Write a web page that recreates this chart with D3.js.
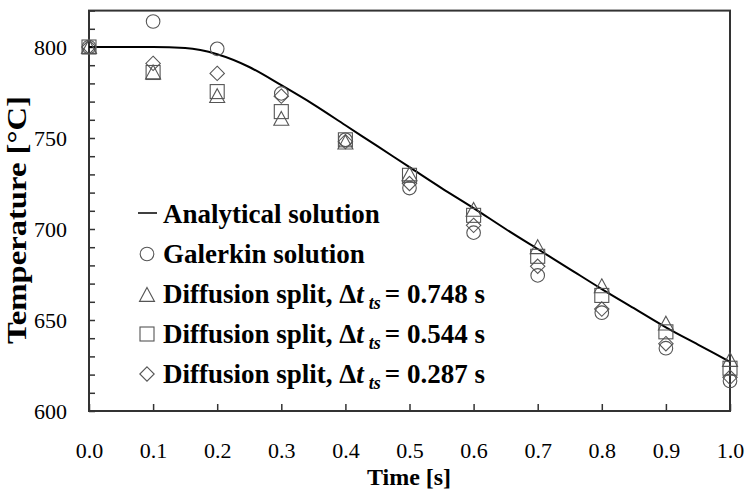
<!DOCTYPE html>
<html><head><meta charset="utf-8">
<script src="https://cdn.jsdelivr.net/npm/d3@7"></script>
<style>body{margin:0;background:#fff}svg{display:block}</style>
</head><body>
<svg id="c" width="745" height="490"></svg>
<script>
const times = [0,0.1,0.2,0.3,0.4,0.5,0.6,0.7,0.8,0.9,1.0];
const galerkin = [800,814,799,774.5,749,722.5,698,674.5,654,634.5,616.5];
const split748 = [800,786,773,760.5,747.5,730,710.5,690,668.5,648,628];
const split544 = [800,786,775.5,764.5,749,729.5,707.5,685,663.5,643.5,623.5];
const split287 = [800,791,785.5,773,748,725,702,679.5,656,637,618.5];
const analyticT = [0,0.05,0.1,0.15,0.2,0.25,0.3,0.35,0.4,0.45,0.5,0.55,0.6,0.65,0.7,0.75,0.8,0.85,0.9,0.95,1.0];
const analyticV = [800,800,800,799.4,796,789,779,768.5,757,745.5,734,722.5,711.5,700,689,678,667,656.5,646,636.5,627];
const xTicks = [0,0.1,0.2,0.3,0.4,0.5,0.6,0.7,0.8,0.9,1.0];
const yMajor = [600,650,700,750,800];
const yMinor = [600,610,620,630,640,650,660,670,680,690,700,710,720,730,740,750,760,770,780,790,800,810,820];
const legendLabels = ["Analytical solution","Galerkin solution","Diffusion split, ","Diffusion split, ","Diffusion split, "];
const legendDt = [null,null,"0.748","0.544","0.287"];

const svg = d3.select("#c");
const x = d3.scaleLinear().domain([0,1]).range([89,730]);
const y = d3.scaleLinear().domain([600,820]).range([411,10.6]);
const axisCol = "#333";
const mCol = "#555";
const serif = "'Liberation Serif','Times New Roman',serif";

// frame
svg.append("rect").attr("x",x(0)).attr("y",y(820)).attr("width",x(1)-x(0)).attr("height",y(600)-y(820))
  .attr("fill","none").attr("stroke",axisCol).attr("stroke-width",2);

// x ticks (inward)
const xa = svg.append("g").attr("transform",`translate(0,${y(600)})`)
  .call(d3.axisBottom(x).tickValues(xTicks).tickSizeInner(-7).tickSizeOuter(0).tickFormat(d3.format(".1f")).tickPadding(31.5));
xa.select(".domain").remove();
xa.selectAll("line").attr("stroke",axisCol).attr("stroke-width",1.5);
xa.selectAll("text").attr("font-family",serif).attr("font-size",22).attr("fill","#000");

// y ticks
const ya = svg.append("g").attr("transform",`translate(${x(0)},0)`)
  .call(d3.axisLeft(y).tickValues(yMinor).tickSizeInner(-6).tickSizeOuter(0).tickFormat(""));
ya.select(".domain").remove();
ya.selectAll("line").attr("stroke",axisCol).attr("stroke-width",1.5);
const yl = svg.append("g").attr("transform",`translate(${x(0)},0)`)
  .call(d3.axisLeft(y).tickValues(yMajor).tickSize(0).tickPadding(22));
yl.select(".domain").remove();
yl.selectAll("text").attr("font-family",serif).attr("font-size",22).attr("fill","#000");

// titles
svg.append("text").attr("x",409).attr("y",485).attr("text-anchor","middle")
  .attr("font-family",serif).attr("font-weight","bold").attr("font-size",24).text("Time [s]");
svg.append("text").attr("transform","translate(26,220) rotate(-90)").attr("text-anchor","middle")
  .attr("font-family",serif).attr("font-weight","bold").attr("font-size",27)
  .attr("textLength",248).attr("lengthAdjust","spacingAndGlyphs").text("Temperature [°C]");

// analytical line
const line = d3.line().x((d,i)=>x(analyticT[i])).y(d=>y(d)).curve(d3.curveMonotoneX);
svg.append("path").attr("d",line(analyticV)).attr("fill","none").attr("stroke","#000").attr("stroke-width",2);

// marker drawers
function circle(g,cx,cy){g.append("circle").attr("cx",cx).attr("cy",cy).attr("r",6.8).attr("fill","none").attr("stroke",mCol).attr("stroke-width",1.1);}
function tri(g,cx,cy){const s=7.5;g.append("path").attr("d",`M${cx},${cy-s}L${cx+s},${cy+s*0.85}L${cx-s},${cy+s*0.85}Z`).attr("fill","none").attr("stroke",mCol).attr("stroke-width",1.1);}
function sq(g,cx,cy){g.append("rect").attr("x",cx-7).attr("y",cy-7).attr("width",14).attr("height",14).attr("fill","none").attr("stroke",mCol).attr("stroke-width",1.1);}
function dia(g,cx,cy){const s=7.2;g.append("path").attr("d",`M${cx},${cy-s}L${cx+s},${cy}L${cx},${cy+s}L${cx-s},${cy}Z`).attr("fill","none").attr("stroke",mCol).attr("stroke-width",1.1);}

const mg = svg.append("g");
times.forEach((t,i)=>{
  circle(mg,x(t),y(galerkin[i]));
  tri(mg,x(t),y(split748[i]));
  sq(mg,x(t),y(split544[i]));
  dia(mg,x(t),y(split287[i]));
});

// legend
const lg = svg.append("g");
const rowY = [223,263,303,343,383];
const mx = 147;
lg.append("line").attr("x1",138).attr("x2",157).attr("y1",rowY[0]-10).attr("y2",rowY[0]-10).attr("stroke","#000").attr("stroke-width",1.5);
circle(lg,mx,rowY[1]-9);
tri(lg,mx,rowY[2]-8);
sq(lg,mx,rowY[3]-9);
dia(lg,mx,rowY[4]-9);
legendLabels.forEach((lab,i)=>{
  const t = lg.append("text").attr("x",163).attr("y",rowY[i]).attr("font-family",serif).attr("font-weight","bold").attr("font-size",27).attr("fill","#000");
  t.append("tspan").text(lab);
  if(legendDt[i]){
    t.append("tspan").text("Δ");
    t.append("tspan").attr("font-style","italic").text("t");
    t.append("tspan").attr("font-style","italic").attr("font-size",18).attr("dx",5).attr("dy",6).text("ts");
    t.append("tspan").attr("dy",-6).attr("dx",4).text("= " + legendDt[i] + " s");
  }
});
</script>
</body></html>
